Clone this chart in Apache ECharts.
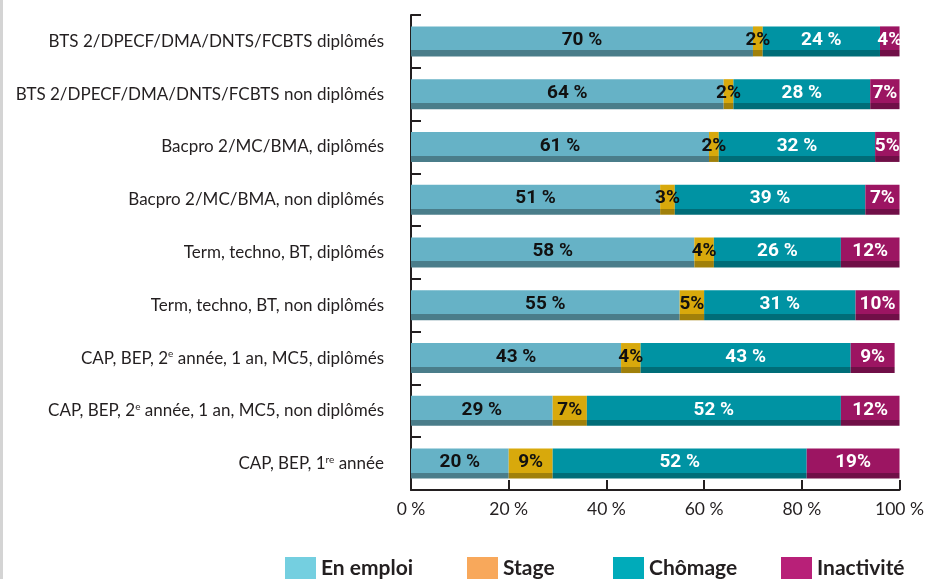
<!DOCTYPE html>
<html>
<head>
<meta charset="utf-8">
<script src="https://cdn.jsdelivr.net/npm/echarts@6/dist/echarts.min.js"></script>
<style>
  html, body { margin: 0; padding: 0; background: #fff; }
  #main { width: 927px; height: 579px; }
</style>
</head>
<body>
<div id="main"></div>
<script>
// catégories (de haut en bas)
var categories = [
  'BTS 2/DPECF/DMA/DNTS/FCBTS diplômés',
  'BTS 2/DPECF/DMA/DNTS/FCBTS non diplômés',
  'Bacpro 2/MC/BMA, diplômés',
  'Bacpro 2/MC/BMA, non diplômés',
  'Term, techno, BT, diplômés',
  'Term, techno, BT, non diplômés',
  'CAP, BEP, 2e année, 1 an, MC5, diplômés',
  'CAP, BEP, 2e année, 1 an, MC5, non diplômés',
  'CAP, BEP, 1re année'
];
var enEmploi   = [70, 64, 61, 51, 58, 55, 43, 29, 20];
var stage      = [2, 2, 2, 3, 4, 5, 4, 7, 9];
var chomage    = [24, 28, 32, 39, 26, 31, 43, 52, 52];
var inactivite = [4, 7, 5, 7, 12, 10, 9, 12, 19];
var seriesNames = ['En emploi', 'Stage', 'Chômage', 'Inactivité'];

var myChart = echarts.init(document.getElementById('main'));

// face + dessous plus sombre (effet 3D)
function face(c, dark) {
  return new echarts.graphic.LinearGradient(0, 0, 0, 1, [
    { offset: 0, color: c },
    { offset: 0.8, color: c },
    { offset: 0.8, color: dark },
    { offset: 1, color: dark }
  ]);
}

function serie(name, data, c, dark, txtColor, fmt) {
  return {
    name: name,
    type: 'bar',
    stack: 'total',
    barWidth: 30,
    data: data,
    itemStyle: { color: face(c, dark) },
    label: {
      show: true,
      position: 'inside',
      offset: [0, -1],
      formatter: fmt,
      color: txtColor,
      fontFamily: '"Liberation Sans Narrow", Roboto, sans-serif',
      fontWeight: 'bold',
      fontSize: 19
    }
  };
}

// une légende par entrée pour caler les positions
var legendLeft = [285, 467, 613, 781];
var legendColors = ['#74cfe0', '#f8a85b', '#00abba', '#b82078'];
var legends = seriesNames.map(function (n, i) {
  return {
    left: legendLeft[i],
    top: 557,
    padding: 0,
    itemWidth: 31,
    itemHeight: 22,
    itemGap: 7,
    icon: 'rect',
    selectedMode: false,
    textStyle: {
      fontFamily: 'Lato, sans-serif',
      fontWeight: 'bold',
      fontSize: 21,
      color: '#231f20'
    },
    data: [{ name: n, itemStyle: { color: legendColors[i] } }]
  };
});

var option = {
  backgroundColor: '#fff',
  animation: false,
  graphic: [{
    type: 'rect',
    shape: { x: 0, y: 0, width: 3, height: 579 },
    style: { fill: '#d4d4d4' }
  }],
  grid: { left: 411, right: 21, top: 15, bottom: 89 },
  legend: legends,
  xAxis: {
    type: 'value',
    min: 0,
    max: 100,
    interval: 20,
    axisLine: { show: true, lineStyle: { color: '#231f20', width: 2 } },
    axisTick: { show: true, inside: true, length: 10, lineStyle: { color: '#231f20', width: 2 } },
    splitLine: { show: false },
    axisLabel: {
      formatter: '{value} %',
      color: '#231f20',
      fontFamily: 'Lato, sans-serif',
      fontSize: 17.5,
      margin: 10
    }
  },
  yAxis: {
    type: 'category',
    inverse: true,
    data: categories,
    axisLine: { show: true, lineStyle: { color: '#231f20', width: 2 } },
    axisTick: { show: true, inside: true, length: 10, lineStyle: { color: '#231f20', width: 2 } },
    axisLabel: {
      margin: 27,
      color: '#231f20',
      fontFamily: 'Lato, sans-serif',
      fontSize: 17,
      formatter: function (v) {
        return v.replace(/(\d)(re|e) année/, '$1{sup|$2} année');
      },
      rich: {
        sup: { fontSize: 10, verticalAlign: 'top', padding: [0, 0, 8, 0], color: '#231f20', fontFamily: 'Lato, sans-serif' }
      }
    }
  },
  series: [
    serie('En emploi', enEmploi, '#66b2c6', '#4a7d8a', '#111', '{c} %'),
    serie('Stage', stage, '#d8a90c', '#a0800a', '#111', '{c}%'),
    serie('Chômage', chomage, '#0093a3', '#006d78', '#fff', '{c} %'),
    serie('Inactivité', inactivite, '#9c1562', '#700f47', '#fff', '{c}%')
  ]
};

myChart.setOption(option);
</script>
</body>
</html>
